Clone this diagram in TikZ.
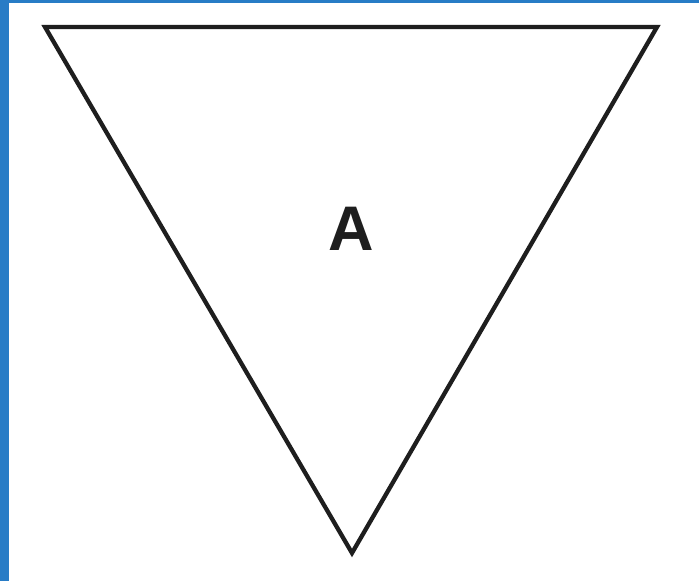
\documentclass[tikz,border=0pt]{standalone}
\usepackage{fontspec}
\setmainfont{Liberation Sans}
\definecolor{frameblue}{RGB}{40,124,198}
\definecolor{inkc}{RGB}{30,30,30}
\begin{document}
\begin{tikzpicture}[x=1pt,y=1pt,
  tri/.style={draw=inkc,line width=4.3pt,line join=miter},
  lbl/.style={font=\fontsize{63}{66}\selectfont\bfseries,text=inkc,inner sep=0pt}]
\useasboundingbox (0,0) rectangle (699,581);
\fill[white] (0,0) rectangle (699,581);
\fill[frameblue] (0,0) rectangle (9,581);
\fill[frameblue] (0,578) rectangle (699,581);
\coordinate (tl) at (45,554);
\coordinate (tr) at (657,554);
\coordinate (bt) at (352,28);
\draw[tri] (tl) -- (tr) -- (bt) -- cycle;
\node[lbl] (a) at (351,352) {A};
\end{tikzpicture}
\end{document}
